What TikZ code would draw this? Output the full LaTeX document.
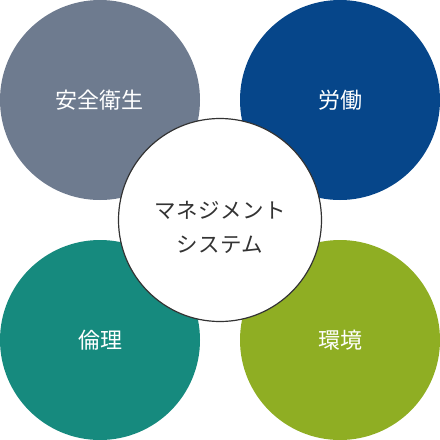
\documentclass[tikz,border=0pt]{standalone}
\usepackage{fontspec}
\setmainfont{Noto Sans CJK JP}
\usepackage{xcolor}
\usetikzlibrary{positioning}
\definecolor{anzen}{HTML}{6E7B8F}
\definecolor{roudou}{HTML}{06468A}
\definecolor{rinri}{HTML}{168A7E}
\definecolor{kankyo}{HTML}{8FAE23}
\definecolor{waku}{HTML}{333333}

\begin{document}
\begin{tikzpicture}[x=1pt,y=-1pt,
    field/.style={circle,minimum size=200pt,inner sep=0pt,text=white,font=\fontsize{22pt}{26pt}\selectfont},
    core/.style={circle,minimum size=203pt,inner sep=0pt,draw=waku,line width=1.2pt,fill=white},
    coretext/.style={inner sep=0pt,text=waku,align=center,
      font=\fontsize{21.5pt}{34pt}\selectfont\addfontfeature{LetterSpace=2}}]
      \useasboundingbox (0,0) rectangle (440,440);
      \node[field,fill=anzen] (safety) at (100,100) {安全衛生};
      \node[field,fill=roudou] (labour) at (340,100) {労働};
      \node[field,fill=rinri] (ethics) at (100,340) {倫理};
      \node[field,fill=kankyo] (environ) at (340,340) {環境};
      \node[core] (mgmt) at (220,220) {};
      \node[coretext] (mgmtlabel) at ([yshift=-7pt]mgmt.center) {マネジメント\\システム};
    \end{tikzpicture}
\end{document}
